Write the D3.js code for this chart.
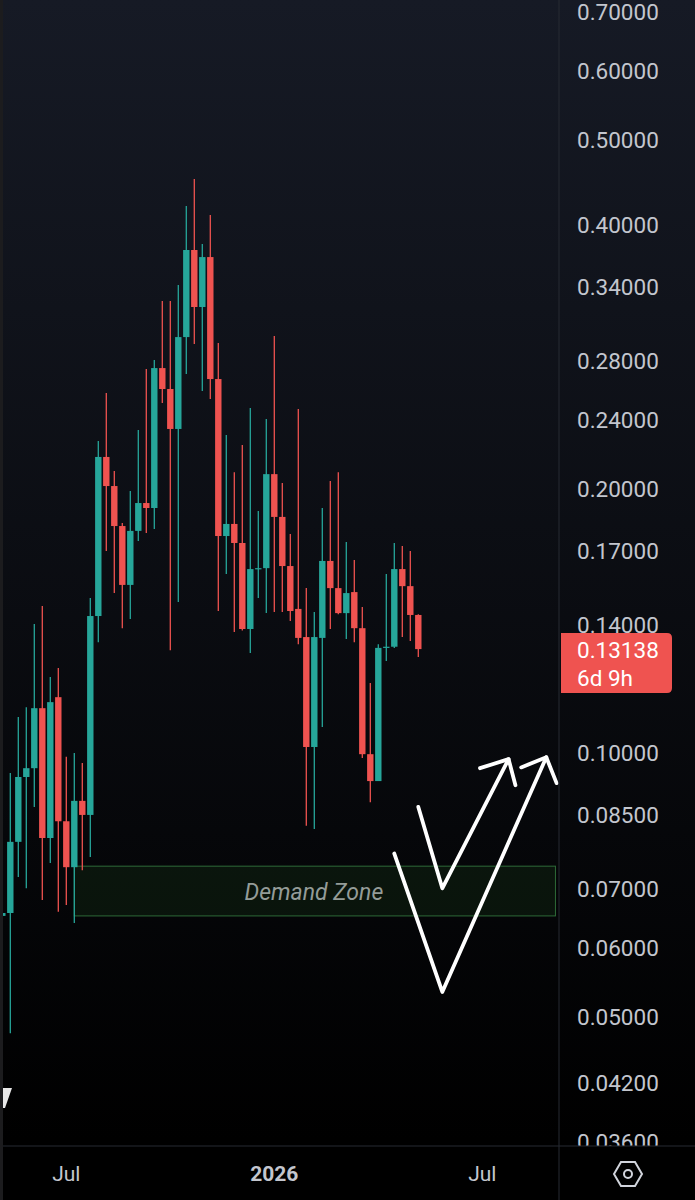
<!DOCTYPE html>
<html>
<head>
<meta charset="utf-8">
<script src="https://cdnjs.cloudflare.com/ajax/libs/d3/7.8.5/d3.min.js"></script>
<style>
    body { margin: 0; background: #000; }
    #chart { width: 695px; height: 1200px; }
    text { font-family: Roboto, "Noto Sans", sans-serif; }
</style>
</head>
<body>
<div id="chart"></div>
<script>

// weekly bars (monday open)
const weeks = ["2025-05-12","2025-05-19","2025-05-26","2025-06-02","2025-06-09","2025-06-16","2025-06-23","2025-06-30",
    "2025-07-07","2025-07-14","2025-07-21","2025-07-28","2025-08-04","2025-08-11","2025-08-18","2025-08-25",
    "2025-09-01","2025-09-08","2025-09-15","2025-09-22","2025-09-29","2025-10-06","2025-10-13","2025-10-20","2025-10-27",
    "2025-11-03","2025-11-10","2025-11-17","2025-11-24","2025-12-01","2025-12-08","2025-12-15","2025-12-22","2025-12-29",
    "2026-01-05","2026-01-12","2026-01-19","2026-01-26","2026-02-02","2026-02-09","2026-02-16","2026-02-23",
    "2026-03-02","2026-03-09","2026-03-16","2026-03-23","2026-03-30","2026-04-06","2026-04-13","2026-04-20","2026-04-27",
    "2026-05-04","2026-05-11"];

const opens = [0.0652,0.0657,0.0792,0.0939,0.0961,0.1125,0.0800,0.1158,
    0.0836,0.0741,0.0882,0.0850,0.1433,0.2176,0.2016,0.1815,
    0.1555,0.1792,0.1928,0.1903,0.2748,0.2601,0.2342,0.2981,0.3747,
    0.3226,0.3678,0.2670,0.1768,0.1825,0.1736,0.1385,0.1621,0.1625,
    0.2080,0.1859,0.1634,0.1460,0.1356,0.1016,0.1353,0.1656,
    0.1542,0.1444,0.1526,0.1388,0.0997,0.0929,0.1318,0.1322,0.1621,
    0.1550,0.1437];

const highs = [0.0657,0.0949,0.1099,0.1128,0.1403,0.1471,0.1221,0.1250,
    0.0990,0.1000,0.0974,0.1502,0.2269,0.2574,0.2097,0.1830,
    0.1990,0.2336,0.2741,0.2807,0.3277,0.3277,0.3418,0.4206,0.4515,
    0.3806,0.4107,0.2935,0.2305,0.2091,0.2245,0.2474,0.1888,0.2404,
    0.2989,0.2032,0.1777,0.2468,0.1542,0.1448,0.1903,0.2043,
    0.2091,0.1740,0.1660,0.1467,0.1202,0.1331,0.1600,0.1736,0.1722,
    0.1700,0.1440];

const lows = [0.0512,0.0479,0.0722,0.0701,0.0868,0.0680,0.0749,0.0659,
    0.0671,0.0640,0.0735,0.0761,0.1338,0.1700,0.1522,0.1388,
    0.1422,0.1745,0.1782,0.1801,0.2507,0.1310,0.1487,0.2705,0.2927,
    0.2587,0.2534,0.1452,0.1600,0.1374,0.1380,0.1300,0.1502,0.1444,
    0.1448,0.1448,0.1414,0.1331,0.0826,0.0819,0.1071,0.1385,
    0.1440,0.1349,0.1338,0.0987,0.0879,0.0929,0.1273,0.1318,0.1356,
    0.1342,0.1287];

const closes = [0.0657,0.0792,0.0939,0.0961,0.1125,0.0800,0.1143,0.0836,
    0.0741,0.0882,0.0850,0.1433,0.2176,0.2016,0.1815,0.1555,
    0.1792,0.1928,0.1903,0.2748,0.2601,0.2342,0.2981,0.3747,0.3226,
    0.3678,0.2670,0.1768,0.1825,0.1736,0.1385,0.1621,0.1625,0.2080,
    0.1859,0.1634,0.1452,0.1353,0.1016,0.1356,0.1656,0.1542,
    0.1444,0.1522,0.1388,0.0997,0.0929,0.1318,0.1322,0.1621,0.1550,
    0.1437,0.13138];

const priceTicks = [0.7,0.6,0.5,0.4,0.34,0.28,0.24,0.2,0.17,0.14,0.1,0.085,0.07,0.06,0.05,0.042,0.036];
const timeTicks = ["2025-07-07","2026-01-05","2026-07-06"];
const timeTickLabels = ["Jul","2026","Jul"];
const countdown = "6d 9h";

// demand zone box
const zoneDates = ["2025-07-14","2026-09-08"];
const zonePrices = [0.0743, 0.0652];
const zoneLabel = "Demand Zone";

// hand drawn arrows: [date, price]
const arrowInner = [["2026-05-11",0.0868],["2026-06-01",0.0701],["2026-07-29",0.0984]];
const arrowInnerHead = [["2026-07-04",0.0961],["2026-07-29",0.0984],["2026-08-04",0.0919]];
const arrowOuter = [["2026-04-20",0.0768],["2026-06-01",0.0534],["2026-08-31",0.0989]];
const arrowOuterHead = [["2026-08-09",0.0963],["2026-08-31",0.0989],["2026-09-09",0.0924]];


class CandleChart {

    constructor(parentElement) {
        this.parentElement = parentElement;
        this.displayData = [];
        this.initVis();
    }

    initVis() {
        let vis = this;

        vis.width = 695;
        vis.height = 1200;
        vis.axisX = 559;      // price axis separator
        vis.axisY = 1146;     // time axis separator

        vis.svg = d3.select("#" + vis.parentElement).append("svg")
            .attr("width", vis.width)
            .attr("height", vis.height);

        let defs = vis.svg.append("defs");
        let grad = defs.append("linearGradient")
            .attr("id", "bg")
            .attr("x1", 0).attr("y1", 0).attr("x2", 0).attr("y2", 1);
        grad.append("stop").attr("offset", "0%").attr("stop-color", "#161a25");
        grad.append("stop").attr("offset", "95%").attr("stop-color", "#000000");

        defs.append("clipPath").attr("id", "plot-clip")
            .append("rect")
            .attr("x", 0).attr("y", 0)
            .attr("width", vis.axisX).attr("height", vis.axisY);

        vis.svg.append("rect")
            .attr("width", vis.width)
            .attr("height", vis.height)
            .attr("fill", "url(#bg)");

        vis.parseDate = d3.utcParse("%Y-%m-%d");

        vis.x = d3.scaleUtc()
            .domain([vis.parseDate("2025-05-12"), vis.parseDate("2026-07-06")])
            .range([2.3, 482.3]);

        vis.y = d3.scaleLog()
            .domain([0.7, 0.05])
            .range([12, 1017]);

        vis.plot = vis.svg.append("g").attr("clip-path", "url(#plot-clip)");

        vis.wrangleData();
    }

    wrangleData() {
        let vis = this;

        vis.displayData = weeks.map((w, i) => ({
            date: vis.parseDate(w),
            open: opens[i],
            high: highs[i],
            low: lows[i],
            close: closes[i]
        }));

        vis.updateVis();
    }

    updateVis() {
        let vis = this;
        let up = "#26a69a", down = "#ef5350";
        let bodyW = 6.4;

        // demand zone
        let zx0 = vis.x(vis.parseDate(zoneDates[0])), zx1 = vis.x(vis.parseDate(zoneDates[1]));
        let zy0 = vis.y(zonePrices[0]), zy1 = vis.y(zonePrices[1]);
        vis.plot.append("rect")
            .attr("x", zx0).attr("y", zy0)
            .attr("width", zx1 - zx0).attr("height", zy1 - zy0)
            .attr("fill", "rgba(46,125,50,0.13)")
            .attr("stroke", "#2e6b38")
            .attr("stroke-width", 1);
        vis.plot.append("text")
            .attr("x", (zx0 + zx1) / 2 - 1)
            .attr("y", (zy0 + zy1) / 2 + 1)
            .attr("text-anchor", "middle")
            .attr("dominant-baseline", "central")
            .attr("font-size", 23)
            .attr("font-style", "italic")
            .attr("fill", "#949c98")
            .text(zoneLabel);

        // wicks
        vis.plot.selectAll(".wick")
            .data(vis.displayData)
            .enter()
            .append("line")
            .attr("class", "wick")
            .attr("x1", d => vis.x(d.date))
            .attr("x2", d => vis.x(d.date))
            .attr("y1", d => vis.y(d.high))
            .attr("y2", d => vis.y(d.low))
            .attr("stroke", d => d.close >= d.open ? up : down)
            .attr("stroke-width", 1.3);

        // bodies
        vis.plot.selectAll(".body")
            .data(vis.displayData)
            .enter()
            .append("rect")
            .attr("class", "body")
            .attr("x", d => vis.x(d.date) - bodyW / 2)
            .attr("y", d => vis.y(Math.max(d.open, d.close)))
            .attr("width", bodyW)
            .attr("height", d => Math.max(1.2, vis.y(Math.min(d.open, d.close)) - vis.y(Math.max(d.open, d.close))))
            .attr("fill", d => d.close >= d.open ? up : down);

        // arrows
        let line = d3.line()
            .x(d => vis.x(vis.parseDate(d[0])))
            .y(d => vis.y(d[1]));
        [arrowInner, arrowInnerHead, arrowOuter, arrowOuterHead].forEach(pts => {
            vis.plot.append("path")
                .attr("d", line(pts))
                .attr("fill", "none")
                .attr("stroke", "#ffffff")
                .attr("stroke-width", 3.8)
                .attr("stroke-linecap", "round")
                .attr("stroke-linejoin", "round");
        });

        // price axis
        vis.svg.append("line")
            .attr("x1", vis.axisX).attr("x2", vis.axisX)
            .attr("y1", 0).attr("y2", vis.height)
            .attr("stroke", "#262a33").attr("stroke-width", 1);

        vis.svg.selectAll(".ptick")
            .data(priceTicks)
            .enter()
            .append("text")
            .attr("class", "ptick")
            .attr("x", 577)
            .attr("y", d => vis.y(d))
            .attr("dominant-baseline", "central")
            .attr("font-size", 22.5)
            .attr("fill", "#c3c6ce")
            .text(d => d3.format(".5f")(d));

        // last price label
        let last = vis.displayData[vis.displayData.length - 1];
        let ly = vis.y(last.close);
        vis.svg.append("path")
            .attr("d", `M${vis.axisX + 2},${ly - 16} H${667} Q${672},${ly - 16} ${672},${ly - 11} V${ly + 39} Q${672},${ly + 44} ${667},${ly + 44} H${vis.axisX + 2} Z`)
            .attr("fill", down);
        vis.svg.append("text")
            .attr("x", 577).attr("y", ly + 1)
            .attr("dominant-baseline", "central")
            .attr("font-size", 22.5)
            .attr("fill", "#ffffff")
            .text(d3.format(".5f")(last.close));
        vis.svg.append("text")
            .attr("x", 577).attr("y", ly + 29)
            .attr("dominant-baseline", "central")
            .attr("font-size", 22.5)
            .attr("fill", "#ffffff")
            .text(countdown);

        // time axis
        vis.svg.append("rect")
            .attr("x", 0).attr("y", vis.axisY)
            .attr("width", vis.width).attr("height", vis.height - vis.axisY)
            .attr("fill", "#000");
        vis.svg.append("line")
            .attr("x1", 0).attr("x2", vis.width)
            .attr("y1", vis.axisY).attr("y2", vis.axisY)
            .attr("stroke", "#262a33");
        vis.svg.append("line")
            .attr("x1", vis.axisX).attr("x2", vis.axisX)
            .attr("y1", vis.axisY).attr("y2", vis.height)
            .attr("stroke", "#262a33");

        vis.svg.selectAll(".ttick")
            .data(timeTicks)
            .enter()
            .append("text")
            .attr("class", "ttick")
            .attr("x", d => vis.x(vis.parseDate(d)))
            .attr("y", 1174)
            .attr("text-anchor", "middle")
            .attr("dominant-baseline", "central")
            .attr("font-size", 21)
            .attr("font-weight", (d, i) => timeTickLabels[i] === "2026" ? "bold" : "normal")
            .attr("fill", "#c3c6ce")
            .text((d, i) => timeTickLabels[i]);

        // settings icon
        let hx = 628, hy = 1174, hr = 14;
        let hex = d3.range(6).map(k => [hx + hr * Math.cos(k * Math.PI / 3), hy + hr * Math.sin(k * Math.PI / 3)]);
        vis.svg.append("polygon")
            .attr("points", hex.map(p => p.join(",")).join(" "))
            .attr("fill", "none").attr("stroke", "#d1d4dc").attr("stroke-width", 2);
        vis.svg.append("circle")
            .attr("cx", hx).attr("cy", hy).attr("r", 4)
            .attr("fill", "none").attr("stroke", "#d1d4dc").attr("stroke-width", 2);

        // left frame strip and scroll marker
        vis.svg.append("rect")
            .attr("x", 0).attr("y", 0).attr("width", 3).attr("height", vis.height)
            .attr("fill", "#1c1c1e");
        vis.svg.append("polygon")
            .attr("points", "3,1088 12,1088 5,1108 3,1108")
            .attr("fill", "#e8e8e8");
    }
}

let chart = new CandleChart("chart");

</script>
</body>
</html>
